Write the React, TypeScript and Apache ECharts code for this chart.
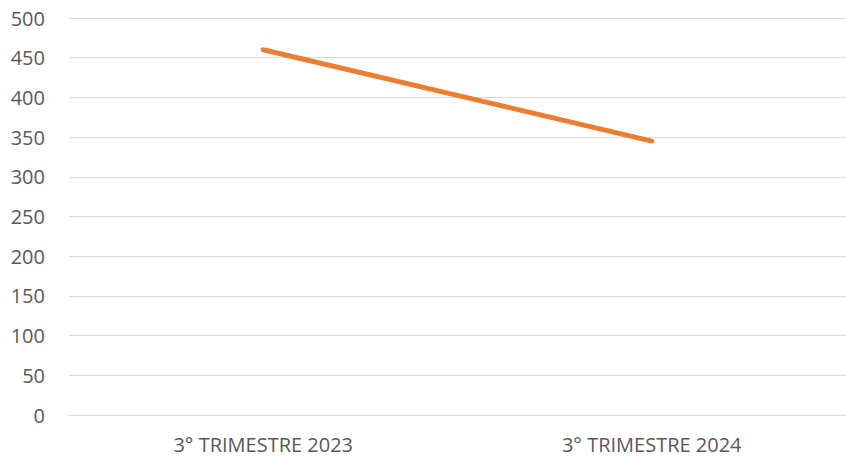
import React, { useEffect, useRef } from "react";
import * as echarts from "echarts";

const categories = ["3° TRIMESTRE 2023", "3° TRIMESTRE 2024"];
const values = [460, 345];

export default function App() {
  const ref = useRef<HTMLDivElement>(null);
  useEffect(() => {
    document.body.style.margin = "0";
    const chart = echarts.init(ref.current!, undefined, { renderer: "svg" });
    chart.setOption({
      animation: false,
      grid: { left: 69, right: -6, top: 18, bottom: 43, containLabel: false },
      xAxis: {
        type: "category",
        data: categories,
        boundaryGap: true,
        axisLine: { show: true, lineStyle: { color: "#d9d9d9", width: 1 } },
        axisTick: { show: false },
        axisLabel: { color: "#595959", fontSize: 20, fontFamily: "Open Sans", margin: 19 },
      },
      yAxis: {
        type: "value",
        min: 0,
        max: 500,
        interval: 50,
        axisLine: { show: false },
        axisTick: { show: false },
        splitLine: { lineStyle: { color: "#d9d9d9", width: 1 } },
        axisLabel: { color: "#595959", fontSize: 20, fontFamily: "Open Sans", margin: 24 },
      },
      series: [
        {
          type: "line",
          data: values,
          showSymbol: false,
          lineStyle: { color: "#ED7D31", width: 5, cap: "round" },
        },
      ],
    });
    return () => chart.dispose();
  }, []);
  return <div ref={ref} style={{ width: 846, height: 458 }} />;
}
